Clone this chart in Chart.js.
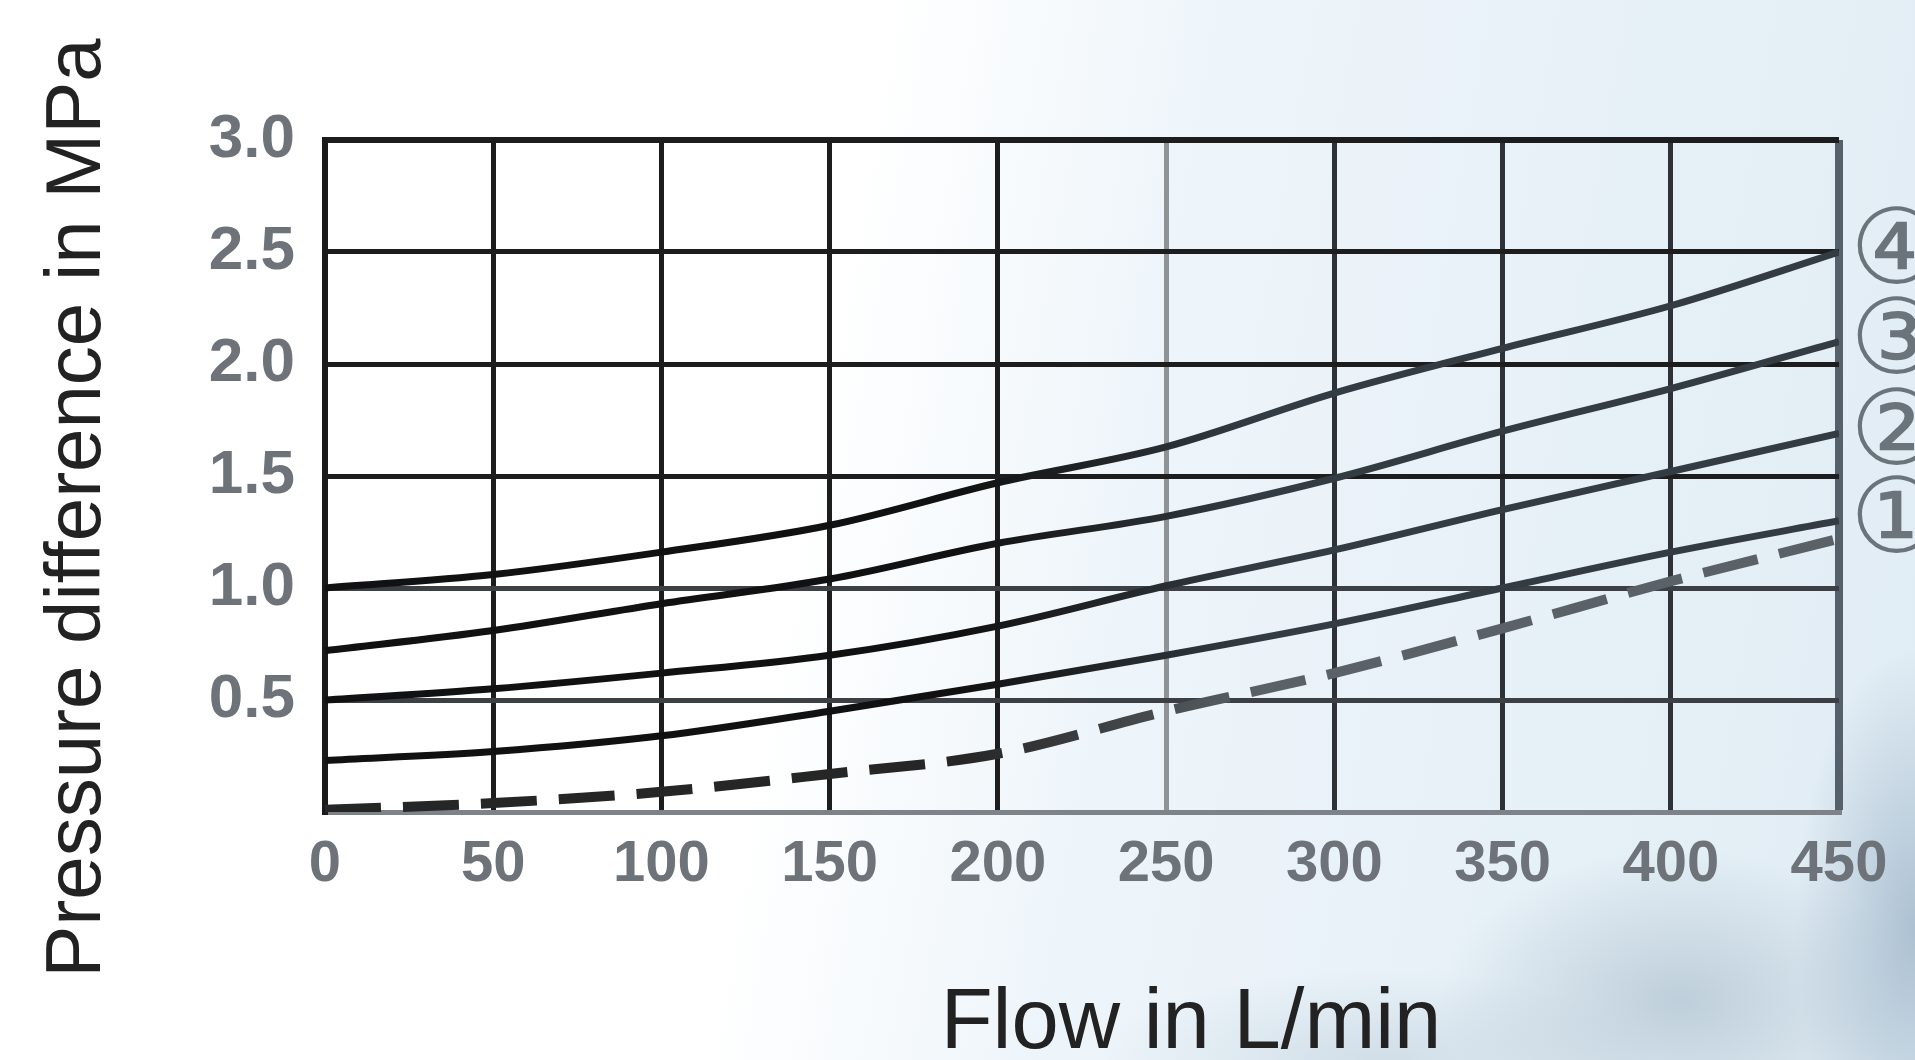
<!DOCTYPE html>
<html>
<head>
<meta charset="utf-8">
<title>Pressure difference vs flow</title>
<script src="https://cdn.jsdelivr.net/npm/chart.js@4.4.1/dist/chart.umd.min.js"></script>
<style>
    html, body {
        margin: 0;
        padding: 0;
        overflow: hidden;
    }
    body {
        width: 1915px;
        height: 1060px;
        background:
            radial-gradient(ellipse 240px 150px at 1680px 1000px, rgba(165, 185, 200, 0.6), rgba(165, 185, 200, 0) 100%),
            radial-gradient(ellipse 120px 280px at 1915px 930px, rgba(150, 174, 195, 0.7), rgba(150, 174, 195, 0) 100%),
            radial-gradient(ellipse 280px 90px at 1380px 1060px, rgba(180, 198, 212, 0.45), rgba(180, 198, 212, 0) 100%),
            linear-gradient(100deg, #ffffff 0%, #ffffff 42%, #eef5fa 58%, #e6f0f7 80%, #e0ecf4 100%);
    }
    canvas {
        display: block;
    }
</style>
</head>
<body>
<canvas id="pressureChart" width="1915" height="1060"></canvas>
<script>
// Values
const flow = [0, 50, 100, 150, 200, 250, 300, 350, 400, 450];
const curve1 = [0.23, 0.27, 0.34, 0.45, 0.57, 0.70, 0.84, 1.00, 1.16, 1.30];
const curve2 = [0.50, 0.55, 0.62, 0.70, 0.83, 1.01, 1.17, 1.35, 1.52, 1.69];
const curve3 = [0.72, 0.81, 0.93, 1.04, 1.20, 1.32, 1.49, 1.70, 1.89, 2.10];
const curve4 = [1.00, 1.06, 1.16, 1.28, 1.47, 1.63, 1.87, 2.07, 2.26, 2.50];
const dashedCurve = [0.01, 0.04, 0.09, 0.17, 0.26, 0.45, 0.62, 0.82, 1.03, 1.22];
const curveLabels = ['\u2460', '\u2461', '\u2462', '\u2463'];
const xTicks = [0, 50, 100, 150, 200, 250, 300, 350, 400, 450];
const yTicks = [0, 0.5, 1.0, 1.5, 2.0, 2.5, 3.0];

document.addEventListener('DOMContentLoaded', function() {
    const ctx = document.getElementById('pressureChart').getContext('2d');

    function toPoints(values) {
        return flow.map((x, i) => ({ x: x, y: values[i] }));
    }

    // dark on the left, fading to grey-blue on the right like the scan
    function fadeStroke(dark, light) {
        return function(context) {
            const area = context.chart.chartArea;
            if (!area) return dark;
            const g = context.chart.ctx.createLinearGradient(area.left, 0, area.right, 0);
            g.addColorStop(0, dark);
            g.addColorStop(0.42, dark);
            g.addColorStop(0.62, light);
            g.addColorStop(1, light);
            return g;
        };
    }

    const solid = fadeStroke('#111111', '#343c43');

    const lineStyle = {
        borderColor: solid,
        borderWidth: 7,
        pointRadius: 0,
        cubicInterpolationMode: 'monotone',
        fill: false
    };

    const labelPlugin = {
        id: 'curveLabels',
        afterDatasetsDraw(chart) {
            const c = chart.ctx;
            const y = chart.scales.y;
            c.save();
            // circled curve numbers at the right end
            c.fillStyle = '#6c747b';
            c.font = '104px "DejaVu Sans"';
            c.textAlign = 'left';
            c.textBaseline = 'middle';
            [curve1, curve2, curve3, curve4].forEach((values, i) => {
                c.fillText(curveLabels[i], 1850, y.getPixelForValue(values[values.length - 1]) + 4);
            });

            // axis titles
            c.fillStyle = '#222222';
            c.textBaseline = 'alphabetic';
            c.textAlign = 'center';
            c.font = '85px "Liberation Sans"';
            c.fillText('Flow in L/min', 1191, 1048);

            c.translate(100, 508);
            c.rotate(-Math.PI / 2);
            c.font = '78px "Liberation Sans"';
            c.fillText('Pressure difference in MPa', 0, 0);
            c.restore();
        }
    };

    new Chart(ctx, {
        type: 'line',
        data: {
            datasets: [
                Object.assign({ label: '1', data: toPoints(curve1) }, lineStyle),
                Object.assign({ label: '2', data: toPoints(curve2) }, lineStyle),
                Object.assign({ label: '3', data: toPoints(curve3) }, lineStyle),
                Object.assign({ label: '4', data: toPoints(curve4) }, lineStyle),
                {
                    label: 'dashed',
                    data: toPoints(dashedCurve),
                    borderColor: fadeStroke('#262626', '#5a6167'),
                    borderWidth: 10,
                    borderDash: [56, 22],
                    pointRadius: 0,
                    cubicInterpolationMode: 'monotone',
                    fill: false
                }
            ]
        },
        options: {
            responsive: false,
            animation: false,
            layout: {
                padding: { left: 0, top: 140, right: 76, bottom: 0 }
            },
            plugins: {
                legend: { display: false },
                tooltip: { enabled: false }
            },
            scales: {
                x: {
                    type: 'linear',
                    min: 0,
                    max: 450,
                    afterFit: function(scale) { scale.height = 248; },
                    afterBuildTicks: function(scale) {
                        scale.ticks = xTicks.map(v => ({ value: v }));
                    },
                    border: { color: '#7d8388', width: 5 },
                    grid: {
                        drawTicks: false,
                        color: function(c) {
                            if (c.tick.value === 250) return '#8f9396';
                            if (c.tick.value === 450) return '#55606a';
                            if (c.tick.value >= 300) return '#2e3135';
                            return '#1d1d1d';
                        },
                        lineWidth: function(c) {
                            return c.tick.value === 450 ? 8 : 5;
                        }
                    },
                    ticks: {
                        padding: 18,
                        color: '#6d7378',
                        font: { family: '"Liberation Sans"', size: 58, weight: 'bold' },
                        maxRotation: 0,
                        autoSkip: false
                    }
                },
                y: {
                    type: 'linear',
                    min: 0,
                    max: 3,
                    afterFit: function(scale) { scale.width = 325; },
                    afterBuildTicks: function(scale) {
                        scale.ticks = yTicks.map(v => ({ value: v }));
                    },
                    border: { color: '#1a1a1a', width: 6 },
                    grid: {
                        drawTicks: false,
                        color: function(c) {
                            if (c.tick.value === 0) return '#7d8388';
                            if (c.tick.value === 0.5 || c.tick.value === 1) return '#3c4044';
                            return '#1d1d1d';
                        },
                        lineWidth: function(c) {
                            return c.tick.value === 3 ? 6 : 5;
                        }
                    },
                    ticks: {
                        padding: 30,
                        color: '#6d7378',
                        font: { family: '"Liberation Sans"', size: 62, weight: 'bold' },
                        callback: function(value) {
                            return value === 0 ? '' : value.toFixed(1);
                        }
                    }
                }
            }
        },
        plugins: [labelPlugin]
    });
});
</script>
</body>
</html>
